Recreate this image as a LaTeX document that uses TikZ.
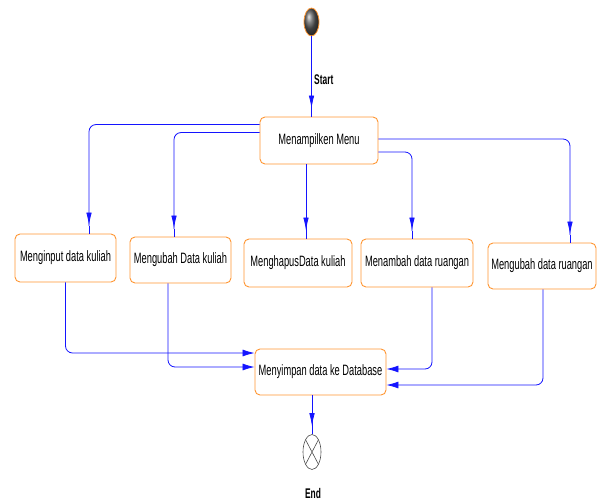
\documentclass[tikz,border=0pt]{standalone}
\usepackage{fontspec}
\setmainfont{Liberation Sans}
\usetikzlibrary{arrows.meta,calc,shapes.geometric}
\definecolor{boxorange}{RGB}{255,150,50}
\definecolor{lineblue}{RGB}{20,20,255}
\newcommand\lbl[1]{\scalebox{0.62}[1]{\fontsize{15}{18}\selectfont #1}}
\newcommand\blbl[1]{\scalebox{0.6}[1]{\fontsize{14}{17}\selectfont\bfseries #1}}
\tikzset{
  actbox/.style={draw=boxorange, line width=0.9pt, rounded corners=5pt, fill=white, inner sep=0pt, align=center},
  conn/.style={draw=lineblue, line width=0.8pt, rounded corners=7pt},
  varr/.style={conn, -{Latex[length=13pt,width=5.5pt,sep=0pt]Rectangle[length=8pt,width=1pt,sep=0pt]}},
  harr/.style={conn, -{Latex[length=12pt,width=7pt]}},
}
\begin{document}
\begin{tikzpicture}[x=1pt,y=-1pt]
\useasboundingbox (0,0) rectangle (597,501);
% start
\node[ellipse, draw=boxorange, line width=0.8pt, minimum width=15pt, minimum height=28pt, inner sep=0pt, shading=ball, ball color=gray!70!black] (start) at (311.5,22) {};
\node[anchor=west, inner sep=0pt] (startlbl) at (314,80) {\blbl{Start}};
% boxes
\node[actbox, minimum width=118pt, minimum height=47pt] (menu) at (319,140.5) {\lbl{Menampilken Menu}};
\node[actbox, minimum width=101pt, minimum height=48pt] (b1) at (65.5,258) {\lbl{Menginput data kuliah}};
\node[actbox, minimum width=101pt, minimum height=46pt] (b2) at (180.5,260) {\lbl{Mengubah Data kuliah}};
\node[actbox, minimum width=108pt, minimum height=48pt] (b3) at (298,263) {\lbl{MenghapusData kuliah}};
\node[actbox, minimum width=112pt, minimum height=48pt] (b4) at (417,263) {\lbl{Menambah data ruangan}};
\node[actbox, minimum width=108pt, minimum height=46pt] (b5) at (542,266) {\lbl{Mengubah data ruangan}};
\node[actbox, minimum width=131pt, minimum height=46pt] (save) at (320.5,372) {\lbl{Menyimpan data ke Database}};
% end
\node[ellipse, draw=black!70, line width=0.6pt, minimum width=18pt, minimum height=35pt, inner sep=0pt] (end) at (312,452) {};
\draw[black!70, line width=0.6pt] (end.north west) -- (end.south east) (end.north east) -- (end.south west);
\node[inner sep=0pt] (endlbl) at (313,493) {\blbl{End}};
% connectors
\draw[varr] (start.south) -- (menu.north -| start.south);
\draw[varr] ($(menu.north west)+(0,8)$) -| ($(b1.north)+(23.5,0)$);
\draw[varr] ($(menu.north west)+(0,16)$) -| ($(b2.north)+(-6.5,0)$);
\draw[varr] ($(menu.south)+(-13,0)$) coordinate (m3) -- (m3 |- b3.north);
\draw[varr] ($(menu.east)+(0,11.5)$) -| ($(b4.north)+(-5,0)$);
\draw[varr] ($(menu.east)+(0,-1.5)$) -| ($(b5.north)+(28,0)$);
\draw[harr] (b1.south) |- ($(save.west)+(0,-19)$);
\draw[harr] ($(b2.south)+(-12.5,0)$) |- ($(save.west)+(0,-5)$);
\draw[harr] ($(b4.south)+(15,0)$) |- ($(save.east)+(0,-3)$);
\draw[harr] ($(b5.south)+(1,0)$) |- ($(save.east)+(0,13)$);
\draw[varr] ($(save.south)+(-8.5,0)$) coordinate (s1) -- (s1 |- end.north);
\end{tikzpicture}
\end{document}
